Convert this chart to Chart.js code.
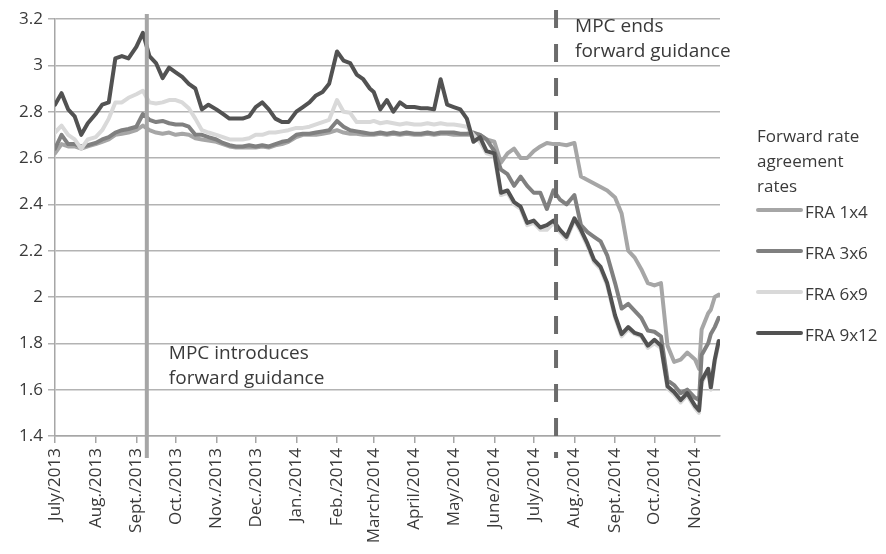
<!DOCTYPE html>
<html><head><meta charset="utf-8">
<script src="https://cdn.jsdelivr.net/npm/chart.js@4/dist/chart.umd.min.js"></script>
<style>html,body{margin:0;padding:0;background:#fff}canvas{display:block}</style>
</head><body>
<canvas id="c" width="886" height="554"></canvas>
<script>
// ---- data ----
const dates = [
'2013-07-01','2013-07-06','2013-07-11','2013-07-16','2013-07-21','2013-07-26',
'2013-08-01','2013-08-06','2013-08-11','2013-08-16','2013-08-21','2013-08-26',
'2013-09-01','2013-09-06','2013-09-11','2013-09-16','2013-09-21','2013-09-26',
'2013-10-01','2013-10-06','2013-10-11','2013-10-16','2013-10-21','2013-10-26',
'2013-11-01','2013-11-06','2013-11-11','2013-11-16','2013-11-21','2013-11-26',
'2013-12-01','2013-12-06','2013-12-11','2013-12-16','2013-12-21','2013-12-26',
'2014-01-01','2014-01-06','2014-01-11','2014-01-16','2014-01-21','2014-01-26',
'2014-02-01','2014-02-06','2014-02-11','2014-02-16','2014-02-21','2014-02-26',
'2014-03-01','2014-03-06','2014-03-11','2014-03-16','2014-03-21','2014-03-26',
'2014-04-01','2014-04-06','2014-04-11','2014-04-16','2014-04-21','2014-04-26',
'2014-05-01','2014-05-06','2014-05-11','2014-05-16','2014-05-21','2014-05-26',
'2014-06-01','2014-06-06','2014-06-11','2014-06-16','2014-06-21','2014-06-26',
'2014-07-01','2014-07-06','2014-07-11','2014-07-16','2014-07-21','2014-07-26',
'2014-08-01','2014-08-06','2014-08-11','2014-08-16','2014-08-21','2014-08-26',
'2014-09-01','2014-09-06','2014-09-11','2014-09-16','2014-09-21','2014-09-26',
'2014-10-01','2014-10-06','2014-10-11','2014-10-16','2014-10-21','2014-10-26',
'2014-11-01','2014-11-04','2014-11-06','2014-11-11','2014-11-13','2014-11-16','2014-11-19'
];
const fra1x4 = [
2.62,2.66,2.65,2.65,2.64,2.65,
2.66,2.67,2.68,2.70,2.705,2.71,
2.72,2.74,2.72,2.71,2.705,2.71,
2.70,2.705,2.70,2.685,2.68,2.675,
2.67,2.66,2.65,2.645,2.645,2.645,
2.645,2.65,2.645,2.655,2.66,2.67,
2.69,2.70,2.70,2.70,2.705,2.71,
2.72,2.71,2.705,2.705,2.70,2.70,
2.70,2.705,2.70,2.705,2.70,2.705,
2.70,2.70,2.705,2.70,2.705,2.705,
2.70,2.70,2.70,2.70,2.70,2.68,
2.67,2.58,2.62,2.64,2.60,2.60,
2.63,2.65,2.665,2.66,2.66,2.655,
2.665,2.52,2.505,2.49,2.475,2.46,
2.43,2.36,2.20,2.17,2.12,2.06,
2.05,2.06,1.79,1.72,1.73,1.76,
1.73,1.69,1.86,1.93,1.945,2.00,2.01
];
const fra3x6 = [
2.64,2.70,2.66,2.66,2.65,2.655,
2.665,2.68,2.69,2.71,2.72,2.725,
2.735,2.79,2.765,2.755,2.76,2.75,
2.745,2.745,2.735,2.70,2.70,2.69,
2.68,2.665,2.655,2.65,2.65,2.655,
2.65,2.655,2.65,2.66,2.67,2.675,
2.70,2.705,2.705,2.71,2.715,2.72,
2.76,2.735,2.72,2.715,2.71,2.705,
2.705,2.71,2.705,2.71,2.705,2.71,
2.705,2.705,2.71,2.705,2.71,2.71,
2.71,2.705,2.705,2.71,2.70,2.68,
2.63,2.55,2.53,2.48,2.52,2.48,
2.45,2.45,2.38,2.46,2.42,2.40,
2.44,2.31,2.28,2.26,2.24,2.18,
2.06,1.95,1.97,1.94,1.91,1.855,
1.85,1.83,1.64,1.62,1.585,1.60,
1.565,1.555,1.75,1.80,1.84,1.87,1.91
];
const fra6x9 = [
2.71,2.74,2.70,2.68,2.64,2.68,
2.69,2.72,2.77,2.84,2.84,2.86,
2.875,2.89,2.84,2.835,2.84,2.85,
2.85,2.84,2.815,2.77,2.72,2.71,
2.70,2.69,2.68,2.68,2.68,2.685,
2.70,2.70,2.71,2.71,2.715,2.72,
2.73,2.73,2.735,2.745,2.755,2.765,
2.85,2.80,2.795,2.755,2.755,2.755,
2.76,2.75,2.755,2.75,2.745,2.75,
2.745,2.745,2.75,2.745,2.75,2.745,
2.745,2.74,2.735,2.70,2.67,2.62,
2.61,2.44,2.45,2.40,2.38,2.31,
2.32,2.29,2.29,2.32,2.28,2.25,
2.33,2.28,2.22,2.15,2.12,2.05,
1.91,1.83,1.86,1.84,1.83,1.78,
1.80,1.78,1.605,1.58,1.545,1.575,
1.52,1.50,1.63,1.68,1.60,1.72,1.80
];
const fra9x12 = [
2.83,2.88,2.81,2.78,2.70,2.75,
2.79,2.83,2.84,3.03,3.04,3.03,
3.08,3.14,3.04,3.01,2.945,2.99,
2.97,2.95,2.92,2.90,2.81,2.83,
2.81,2.79,2.77,2.77,2.77,2.78,
2.82,2.84,2.81,2.77,2.755,2.755,
2.80,2.82,2.84,2.87,2.885,2.92,
3.06,3.02,3.01,2.96,2.94,2.90,
2.885,2.81,2.85,2.80,2.84,2.82,
2.82,2.815,2.815,2.81,2.94,2.83,
2.82,2.81,2.77,2.67,2.69,2.63,
2.62,2.45,2.46,2.41,2.39,2.32,
2.33,2.30,2.31,2.33,2.29,2.26,
2.34,2.29,2.23,2.16,2.13,2.06,
1.92,1.84,1.87,1.845,1.835,1.79,
1.815,1.79,1.615,1.59,1.555,1.585,
1.53,1.51,1.64,1.69,1.61,1.73,1.81
];
const seriesNames = ['FRA 1x4','FRA 3x6','FRA 6x9','FRA 9x12'];
const tickDates = ['2013-07-01','2013-08-01','2013-09-01','2013-10-01','2013-11-01','2013-12-01',
'2014-01-01','2014-02-01','2014-03-01','2014-04-01','2014-05-01','2014-06-01','2014-07-01',
'2014-08-01','2014-09-01','2014-10-01','2014-11-01'];
const tickLabels = ['July/2013','Aug./2013','Sept./2013','Oct./2013','Nov./2013','Dec./2013',
'Jan./2014','Feb./2014','March/2014','April/2014','May/2014','June/2014','July/2014',
'Aug./2014','Sept./2014','Oct./2014','Nov./2014'];
const yTicks = [1.4,1.6,1.8,2.0,2.2,2.4,2.6,2.8,3.0,3.2];
const yTickLabels = ['1.4','1.6','1.8','2','2.2','2.4','2.6','2.8','3','3.2'];
const axisEndDate = '2014-11-20';
const introDate = '2013-09-09';
const endDate = '2014-07-18';
const introText = ['MPC introduces','forward guidance'];
const endText = ['MPC ends','forward guidance'];
const legendTitle = ['Forward rate','agreement','rates'];

// ---- helpers ----
const base = Date.UTC(2013,6,1);
function dayOf(s){const p=s.split('-').map(Number);return (Date.UTC(p[0],p[1]-1,p[2])-base)/86400000;}
const xs = dates.map(dayOf);
const pts = arr => arr.map((v,i)=>({x:xs[i],y:v}));
const colors = ['#a6a6a6','#808080','#d9d9d9','#525252'];
const FONT = '"Open Sans", Lato, sans-serif';
const TXT = '#3a3a3a';

const allSeries = [fra1x4,fra3x6,fra6x9,fra9x12];
const datasets = allSeries.map((s,i)=>({
  label: seriesNames[i], data: pts(s), borderColor: colors[i], backgroundColor: colors[i],
  borderWidth: 4, pointRadius: 0, tension: 0, borderJoinStyle: 'round', borderCapStyle:'round',
  order: 3 - i
}));

const overlay = {
  id:'overlay',
  afterDatasetsDraw(chart){
    const {ctx, scales:{x}} = chart;
    ctx.save();
    const xi = x.getPixelForValue(dayOf(introDate));
    ctx.strokeStyle = '#a6a6a6'; ctx.lineWidth = 4;
    ctx.beginPath(); ctx.moveTo(xi,14); ctx.lineTo(xi,458); ctx.stroke();
    const xe = x.getPixelForValue(dayOf(endDate));
    ctx.strokeStyle = '#6b6b6b'; ctx.lineWidth = 4; ctx.setLineDash([18,16]);
    ctx.beginPath(); ctx.moveTo(xe,10); ctx.lineTo(xe,458); ctx.stroke();
    ctx.restore();
  },
  afterDraw(chart){
    const {ctx, scales:{x}} = chart;
    ctx.save();
    ctx.fillStyle = TXT; ctx.textBaseline = 'middle'; ctx.textAlign = 'left';
    ctx.font = '19px ' + FONT;
    const xi = x.getPixelForValue(dayOf(introDate));
    ctx.fillText(introText[0], xi+22, 354);
    ctx.fillText(introText[1], xi+22, 379);
    const xe = x.getPixelForValue(dayOf(endDate));
    ctx.fillText(endText[0], xe+19, 27);
    ctx.fillText(endText[1], xe+19, 52);
    // legend
    ctx.font = '17px ' + FONT;
    const lx = 757;
    legendTitle.forEach((t,i)=>ctx.fillText(t, lx, 137 + i*25));
    const ly = [210, 251, 292, 333];
    seriesNames.forEach((n,i)=>{
      ctx.strokeStyle = colors[i]; ctx.lineWidth = 4; ctx.lineCap='round';
      ctx.beginPath(); ctx.moveTo(lx+1, ly[i]); ctx.lineTo(lx+44, ly[i]); ctx.stroke();
      ctx.fillText(n, lx+48, ly[i]+3);
    });
    ctx.restore();
  }
};

new Chart(document.getElementById('c'), {
  type:'line',
  data:{datasets},
  plugins:[overlay],
  options:{
    responsive:false, animation:false, devicePixelRatio:1,
    layout:{padding:{top:19,right:166,left:0,bottom:0}},
    plugins:{legend:{display:false},tooltip:{enabled:false}},
    scales:{
      x:{type:'linear', min:0, max:dayOf(axisEndDate),
        afterBuildTicks(s){ s.ticks = tickDates.map(d=>({value:dayOf(d)})); },
        afterFit(s){ s.height = 118; },
        ticks:{minRotation:90,maxRotation:90,autoSkip:false,padding:5,color:TXT,
          font:{family:FONT,size:17}, callback:(v,i)=>tickLabels[i]},
        grid:{drawOnChartArea:false,drawTicks:true,tickLength:7,color:'#a6a6a6',lineWidth:1.5},
        border:{color:'#a6a6a6',width:1.5}
      },
      y:{min:1.4,max:3.2,
        afterBuildTicks(s){ s.ticks = yTicks.map(v=>({value:v})); },
        afterFit(s){ s.width = 55; },
        ticks:{padding:5,color:TXT,font:{family:FONT,size:17},callback:(v,i)=>yTickLabels[i]},
        grid:{color:'#b3b3b3',lineWidth:1.5,tickLength:7},
        border:{color:'#a6a6a6',width:1.5}
      }
    }
  }
});
</script>
</body></html>
